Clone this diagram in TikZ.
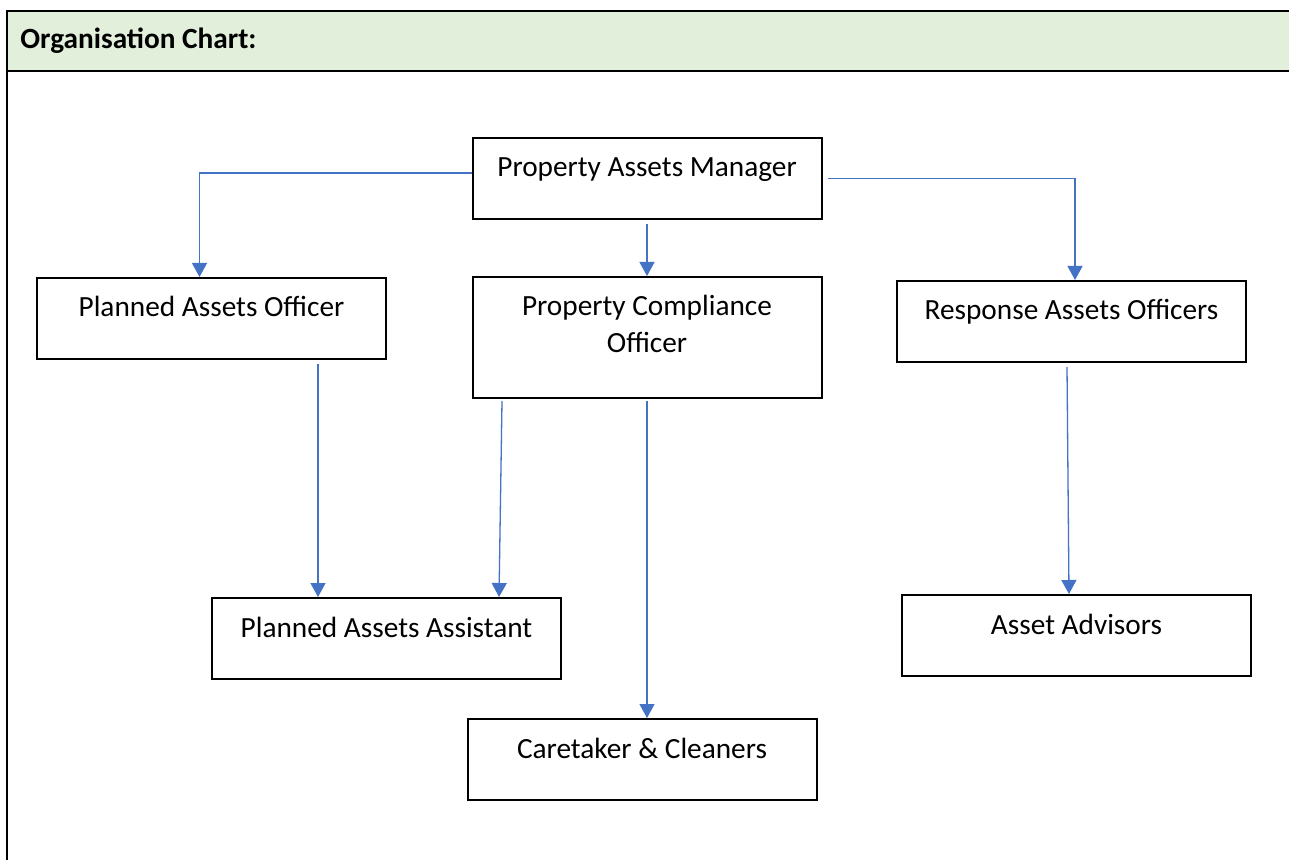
\documentclass[tikz,border=0pt]{standalone}
\usepackage{fontspec}
\setmainfont{Carlito}
\usetikzlibrary{arrows.meta}
\definecolor{headgreen}{HTML}{E2EFDA}
\definecolor{linkblue}{HTML}{4472C4}

\begin{document}
\begin{tikzpicture}[x=0.5pt,y=-0.5pt]
\tikzset{post/.style={rectangle,draw=black,line width=1pt,fill=white,anchor=north,minimum width=174.5pt,inner sep=0pt,text height=19.5pt,text depth=21pt,font=\fontsize{14.65pt}{18.5pt}\selectfont}}
\tikzset{link/.style={draw=linkblue,line width=0.65pt,-{Triangle[width=7.5pt,length=7pt]}}}

  \useasboundingbox (0,0) rectangle (1289,860);
  \fill[white] (0,0) rectangle (1289,860);

  % header bar and left rule
  \draw[line width=1.25pt,fill=headgreen] (7,11) rectangle (1300,71);
  \draw[line width=1.25pt] (7,11) -- (7,870);
  \node[anchor=base west,inner sep=0pt,font=\bfseries\fontsize{14.65pt}{18.5pt}\selectfont] (title) at (20,49) {Organisation Chart:};

  \node[post] (pam) at (647,137)    {Property Assets Manager};
  \node[post] (pao) at (211.5,277)  {Planned Assets Officer};
  \node[post,align=center,text height=38pt,text depth=22.5pt] (pco) at (647,276) {Property Compliance\\Officer};
  \node[post] (rao) at (1071.5,280) {Response Assets Officers};
  \node[post] (paa) at (386.5,597)  {Planned Assets Assistant};
  \node[post] (aa)  at (1076.5,594) {Asset Advisors};
  \node[post] (cc)  at (642,718)    {Caretaker \& Cleaners};

  \draw[link] ([yshift=2.75pt]pam.west) -| ([xshift=-6pt]pao.north);
  \draw[link] ([xshift=2.5pt]pam.east) -| ([xshift=1.75pt]rao.north);
  \draw[link] ([yshift=-2pt]pam.south) -- (pco.north);
  \draw[link] ([xshift=53.25pt,yshift=-2pt]pao.south) -- ([xshift=-34.25pt]paa.north);
  \draw[link] ([xshift=-72.5pt,yshift=-1pt]pco.south) -- ([xshift=56.25pt]paa.north);
  \draw[link] ([yshift=-1pt]pco.south) -- ([xshift=2.5pt]cc.north);
  \draw[link] ([xshift=-2.25pt,yshift=-2pt]rao.south) -- ([xshift=-3.75pt]aa.north);
\end{tikzpicture}
\end{document}
